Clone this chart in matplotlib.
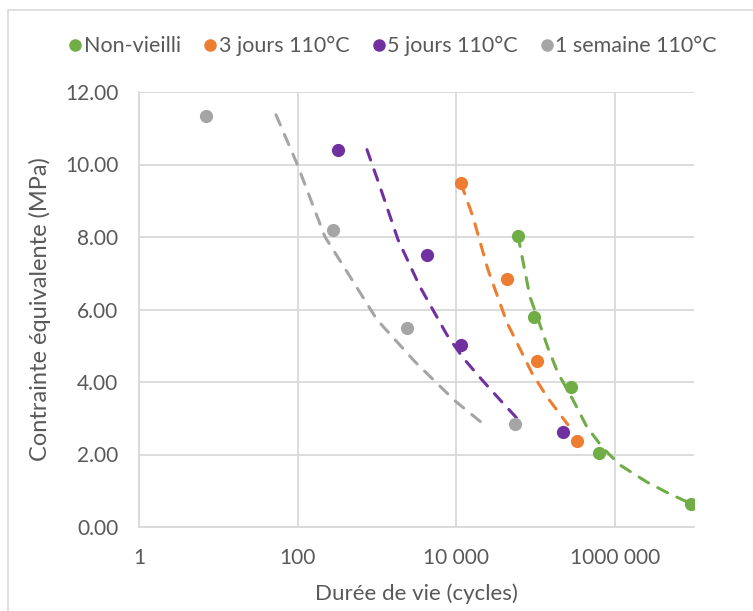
import numpy as np
import matplotlib.pyplot as plt
from matplotlib.patches import Rectangle
from matplotlib.ticker import FixedLocator, FuncFormatter, NullLocator

plt.rcParams['font.family'] = ['Lato', 'DejaVu Sans']

labels = ['Non-vieilli', '3 jours 110°C', '5 jours 110°C', '1 semaine 110°C']
colors = ['#70AD47', '#ED7D31', '#7030A0', '#A5A5A5']

# measured points (cycles, MPa)
n_green = [60150, 95700, 280500, 632000, 9140000]
s_green = [8.04, 5.80, 3.87, 2.04, 0.64]
n_orange = [11490, 43740, 104400, 333600]
s_orange = [9.48, 6.85, 4.59, 2.38]
n_purple = [323, 4285, 11490, 222300]
s_purple = [10.41, 7.51, 5.03, 2.62]
n_gray = [7.0, 279, 2398, 55100]
s_gray = [11.35, 8.20, 5.49, 2.85]

# dashed model curves
mn_green = [60150, 85300, 114000, 143800, 192100, 297000, 446000, 710000,
            1164000, 2548000, 4966000, 8877000]
ms_green = [8.04, 6.35, 5.58, 4.94, 4.25, 3.51, 2.76, 2.18, 1.71, 1.24, 0.91, 0.66]
mn_orange = [11490, 16290, 25180, 43740, 90300, 139700, 257000]
ms_orange = [9.48, 8.56, 7.10, 5.64, 4.25, 3.59, 2.82]
mn_purple = [750, 1094, 1846, 3494, 7655, 12190, 21150, 35660, 69560]
ms_purple = [10.41, 9.39, 7.93, 6.63, 5.30, 4.67, 4.06, 3.51, 2.82]
mn_gray = [53.4, 98, 221, 396, 1003, 3020, 9660, 21800]
ms_gray = [11.37, 10.03, 8.01, 7.13, 5.72, 4.56, 3.48, 2.85]

points = [(n_green, s_green), (n_orange, s_orange), (n_purple, s_purple), (n_gray, s_gray)]
curves = [(mn_green, ms_green), (mn_orange, ms_orange), (mn_purple, ms_purple), (mn_gray, ms_gray)]

fig = plt.figure(figsize=(7.53, 6.11), dpi=100)
ax = fig.add_axes([139 / 753, 1 - 527 / 611, (694 - 139) / 753, (527 - 92) / 611])

handles = []
for (n, s), (mn, ms), c, lab in zip(points, curves, colors, labels):
    ax.plot(mn, ms, color=c, lw=2.2, linestyle=(0, (3.6, 3.4)),
            dash_capstyle='round', zorder=3)
    h, = ax.plot(n, s, 'o', color=c, ms=9.5, mec='none', label=lab, zorder=4)
    handles.append(h)

ax.set_xscale('log')
ax.set_xlim(1, 1e7)
ax.set_ylim(0, 12)
ax.xaxis.set_major_locator(FixedLocator([1, 100, 10000, 1000000]))
ax.xaxis.set_minor_locator(NullLocator())
xt = {1: '1', 100: '100', 10000: '10 000', 1000000: '1000 000'}
ax.xaxis.set_major_formatter(FuncFormatter(lambda v, p: xt.get(int(round(v)), '')))
ax.set_yticks(np.arange(0, 13, 2))
ax.yaxis.set_major_formatter(FuncFormatter(lambda v, p: f'{v:.2f}'))

ax.grid(True, color='#D9D9D9', lw=1.3)
ax.set_axisbelow(True)
for sp in ['top', 'right']:
    ax.spines[sp].set_visible(False)
for sp in ['left', 'bottom']:
    ax.spines[sp].set_color('#D9D9D9')
    ax.spines[sp].set_linewidth(1.3)
ax.tick_params(length=0, labelsize=15, colors='#595959', pad=15)
ax.tick_params(axis='x', pad=15)

ax.set_xlabel('Durée de vie (cycles)', fontsize=16, color='#595959', labelpad=11)
ax.set_ylabel('Contrainte équivalente (MPa)', fontsize=17, color='#595959', labelpad=10)

fig.legend(handles=handles, loc='center', bbox_to_anchor=(0.522, 1 - 46 / 611), ncol=4,
           frameon=False, fontsize=15.5, handlelength=0.6, handletextpad=0.1,
           columnspacing=1.05, labelcolor='#595959', markerscale=0.95)

fig.add_artist(Rectangle((8 / 753, -0.05), 1.0, 1 - 10 / 611 + 0.05, transform=fig.transFigure,
                         fill=False, ec='#D9D9D9', lw=1.2))

fig.savefig('out.png', dpi=100)
